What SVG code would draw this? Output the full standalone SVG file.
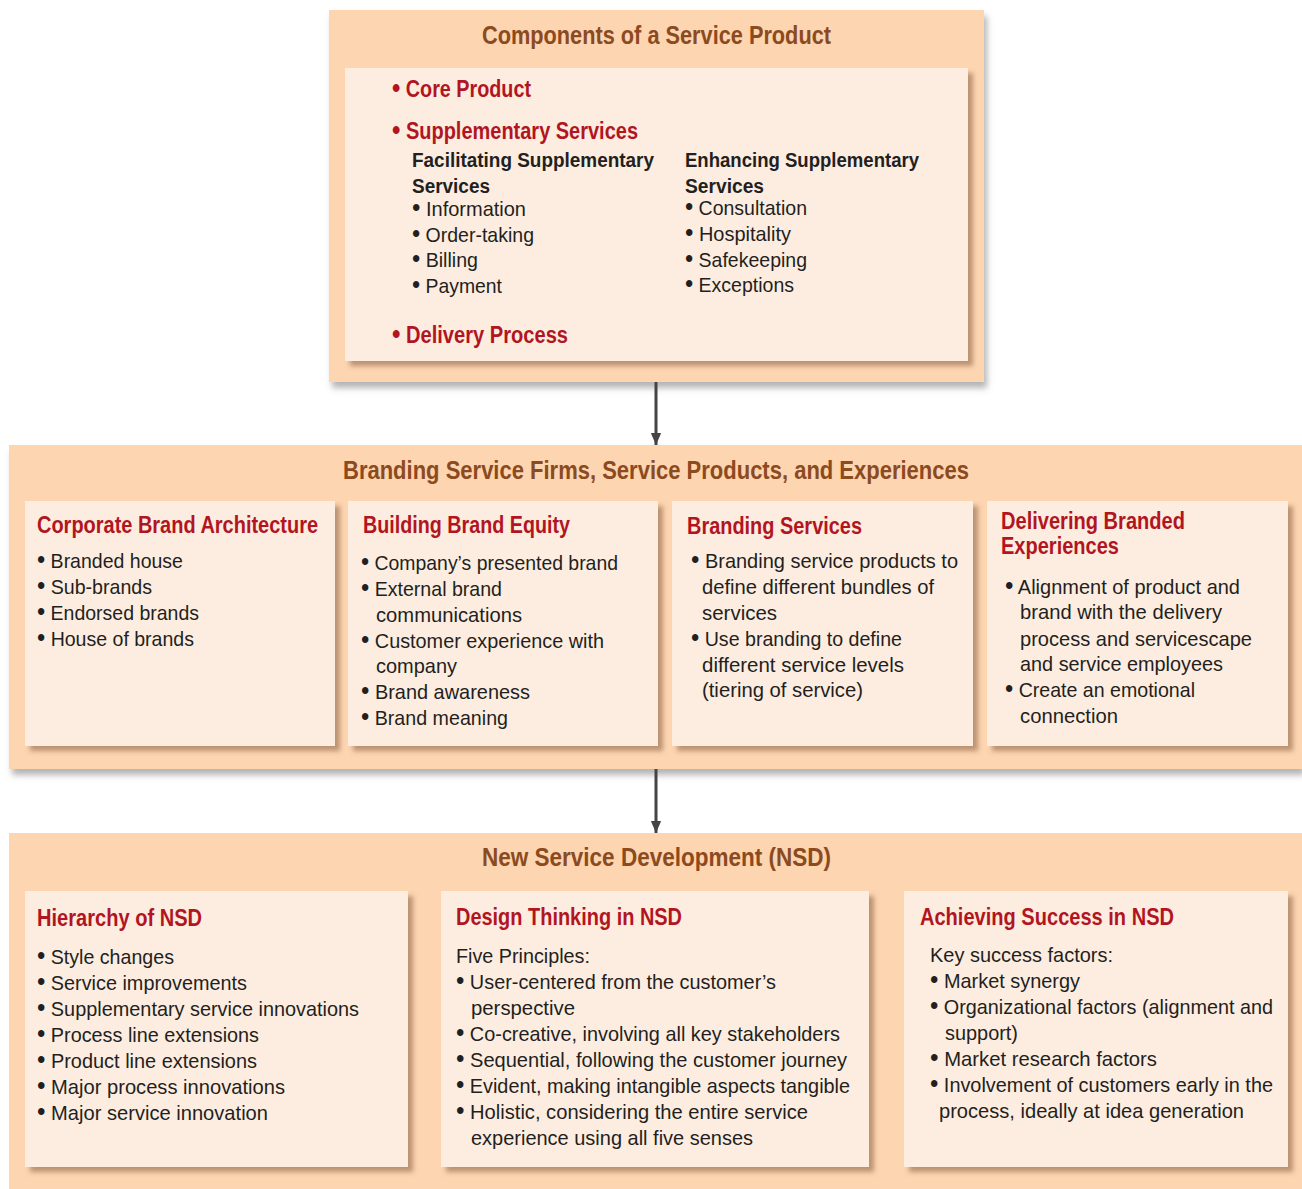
<svg xmlns="http://www.w3.org/2000/svg" width="1302" height="1189" viewBox="0 0 1302 1189">
<style>
text{font-family:"Liberation Sans",Arimo,Arial,sans-serif;}
.outer{fill:#FDD5B1;}
.inner{fill:#FDEDE0;}
.title{font-size:25px;font-weight:bold;fill:#8C4A1F;text-anchor:middle;}
.head{font-size:24px;font-weight:bold;fill:#B2151F;}
.head23{font-size:23px;font-weight:bold;fill:#B2151F;}
.sub{font-size:20px;font-weight:bold;fill:#231F20;}
.body{font-size:21px;fill:#231F20;}
.b{font-size:1.2em;}
.conn{stroke:#444;stroke-width:3;fill:none;}
</style>
<defs>
<filter id="osh" x="-5%" y="-5%" width="115%" height="120%">
<feDropShadow dx="3" dy="6" stdDeviation="3" flood-color="#777" flood-opacity="0.55"/>
</filter>
<filter id="ish" x="-5%" y="-5%" width="115%" height="120%">
<feDropShadow dx="5" dy="5" stdDeviation="2.5" flood-color="#7a5030" flood-opacity="0.5"/>
</filter>
<marker id="ah" markerWidth="12" markerHeight="14" refX="14" refY="6" orient="auto" markerUnits="userSpaceOnUse" viewBox="0 0 14 12">
<path d="M0,0 L14,6 L0,12 z" fill="#444"/>
</marker>
</defs>
<rect width="1302" height="1189" fill="#fff"/>

<g id="components">
<rect class="outer" x="329" y="10" width="655" height="372" filter="url(#osh)"/>
<text class="title" x="656.5" y="44" textLength="349" lengthAdjust="spacingAndGlyphs">Components of a Service Product</text>
<rect class="inner" x="345" y="68" width="623" height="293" filter="url(#ish)"/>
<text class="head23" x="392" y="97" textLength="139" lengthAdjust="spacingAndGlyphs"><tspan class="b">•</tspan> Core Product</text>
<text class="head23" x="392" y="139" textLength="246" lengthAdjust="spacingAndGlyphs"><tspan class="b">•</tspan> Supplementary Services</text>
<text class="sub" x="412" y="167" textLength="242" lengthAdjust="spacingAndGlyphs">Facilitating Supplementary</text>
<text class="sub" x="412" y="193" textLength="78" lengthAdjust="spacingAndGlyphs">Services</text>
<text class="body" x="412" y="216" textLength="114" lengthAdjust="spacingAndGlyphs"><tspan class="b">•</tspan> Information</text>
<text class="body" x="412" y="242" textLength="122" lengthAdjust="spacingAndGlyphs"><tspan class="b">•</tspan> Order-taking</text>
<text class="body" x="412" y="267" textLength="66" lengthAdjust="spacingAndGlyphs"><tspan class="b">•</tspan> Billing</text>
<text class="body" x="412" y="293" textLength="90" lengthAdjust="spacingAndGlyphs"><tspan class="b">•</tspan> Payment</text>
<text class="sub" x="685" y="167" textLength="234" lengthAdjust="spacingAndGlyphs">Enhancing Supplementary</text>
<text class="sub" x="685" y="193" textLength="79" lengthAdjust="spacingAndGlyphs">Services</text>
<text class="body" x="685" y="215" textLength="122" lengthAdjust="spacingAndGlyphs"><tspan class="b">•</tspan> Consultation</text>
<text class="body" x="685" y="241" textLength="106" lengthAdjust="spacingAndGlyphs"><tspan class="b">•</tspan> Hospitality</text>
<text class="body" x="685" y="267" textLength="122" lengthAdjust="spacingAndGlyphs"><tspan class="b">•</tspan> Safekeeping</text>
<text class="body" x="685" y="292" textLength="109" lengthAdjust="spacingAndGlyphs"><tspan class="b">•</tspan> Exceptions</text>
<text class="head23" x="392" y="343" textLength="176" lengthAdjust="spacingAndGlyphs"><tspan class="b">•</tspan> Delivery Process</text>
</g>

<g id="branding">
<rect class="outer" x="9" y="445" width="1293" height="324" filter="url(#osh)"/>
<text class="title" x="656" y="479" textLength="626" lengthAdjust="spacingAndGlyphs">Branding Service Firms, Service Products, and Experiences</text>
</g>

<g id="corporate-brand">
<rect class="inner" x="25" y="501" width="310" height="245" filter="url(#ish)"/>
<text class="head" x="37" y="533" textLength="281" lengthAdjust="spacingAndGlyphs">Corporate Brand Architecture</text>
<text class="body" x="37" y="568" textLength="146" lengthAdjust="spacingAndGlyphs"><tspan class="b">•</tspan> Branded house</text>
<text class="body" x="37" y="594" textLength="115" lengthAdjust="spacingAndGlyphs"><tspan class="b">•</tspan> Sub-brands</text>
<text class="body" x="37" y="620" textLength="162" lengthAdjust="spacingAndGlyphs"><tspan class="b">•</tspan> Endorsed brands</text>
<text class="body" x="37" y="646" textLength="157" lengthAdjust="spacingAndGlyphs"><tspan class="b">•</tspan> House of brands</text>
</g>

<g id="brand-equity">
<rect class="inner" x="348" y="501" width="310" height="245" filter="url(#ish)"/>
<text class="head" x="363" y="533" textLength="207" lengthAdjust="spacingAndGlyphs">Building Brand Equity</text>
<text class="body" x="361" y="570" textLength="257" lengthAdjust="spacingAndGlyphs"><tspan class="b">•</tspan> Company’s presented brand</text>
<text class="body" x="361" y="596" textLength="141" lengthAdjust="spacingAndGlyphs"><tspan class="b">•</tspan> External brand</text>
<text class="body" x="376" y="622" textLength="146" lengthAdjust="spacingAndGlyphs">communications</text>
<text class="body" x="361" y="648" textLength="243" lengthAdjust="spacingAndGlyphs"><tspan class="b">•</tspan> Customer experience with</text>
<text class="body" x="376" y="673" textLength="81" lengthAdjust="spacingAndGlyphs">company</text>
<text class="body" x="361" y="699" textLength="169" lengthAdjust="spacingAndGlyphs"><tspan class="b">•</tspan> Brand awareness</text>
<text class="body" x="361" y="725" textLength="147" lengthAdjust="spacingAndGlyphs"><tspan class="b">•</tspan> Brand meaning</text>
</g>

<g id="branding-services">
<rect class="inner" x="672" y="501" width="301" height="245" filter="url(#ish)"/>
<text class="head" x="687" y="534" textLength="175" lengthAdjust="spacingAndGlyphs">Branding Services</text>
<text class="body" x="691" y="568" textLength="267" lengthAdjust="spacingAndGlyphs"><tspan class="b">•</tspan> Branding service products to</text>
<text class="body" x="702" y="594" textLength="232" lengthAdjust="spacingAndGlyphs">define different bundles of</text>
<text class="body" x="702" y="620" textLength="75" lengthAdjust="spacingAndGlyphs">services</text>
<text class="body" x="691" y="646" textLength="211" lengthAdjust="spacingAndGlyphs"><tspan class="b">•</tspan> Use branding to define</text>
<text class="body" x="702" y="672" textLength="202" lengthAdjust="spacingAndGlyphs">different service levels</text>
<text class="body" x="702" y="697" textLength="161" lengthAdjust="spacingAndGlyphs">(tiering of service)</text>
</g>

<g id="branded-experiences">
<rect class="inner" x="987" y="501" width="301" height="245" filter="url(#ish)"/>
<text class="head" x="1001" y="529" textLength="184" lengthAdjust="spacingAndGlyphs">Delivering Branded</text>
<text class="head" x="1001" y="554" textLength="118" lengthAdjust="spacingAndGlyphs">Experiences</text>
<text class="body" x="1005" y="594" textLength="235" lengthAdjust="spacingAndGlyphs"><tspan class="b">•</tspan> Alignment of product and</text>
<text class="body" x="1020" y="619" textLength="202" lengthAdjust="spacingAndGlyphs">brand with the delivery</text>
<text class="body" x="1020" y="646" textLength="232" lengthAdjust="spacingAndGlyphs">process and servicescape</text>
<text class="body" x="1020" y="671" textLength="203" lengthAdjust="spacingAndGlyphs">and service employees</text>
<text class="body" x="1005" y="697" textLength="190" lengthAdjust="spacingAndGlyphs"><tspan class="b">•</tspan> Create an emotional</text>
<text class="body" x="1020" y="723" textLength="98" lengthAdjust="spacingAndGlyphs">connection</text>
</g>

<g id="nsd">
<rect class="outer" x="9" y="833" width="1293" height="356"/>
<text class="title" x="656.5" y="866" textLength="349" lengthAdjust="spacingAndGlyphs">New Service Development (NSD)</text>
</g>

<g id="hierarchy">
<rect class="inner" x="25" y="891" width="383" height="276" filter="url(#ish)"/>
<text class="head" x="37" y="926" textLength="165" lengthAdjust="spacingAndGlyphs">Hierarchy of NSD</text>
<text class="body" x="37" y="964" textLength="137" lengthAdjust="spacingAndGlyphs"><tspan class="b">•</tspan> Style changes</text>
<text class="body" x="37" y="990" textLength="210" lengthAdjust="spacingAndGlyphs"><tspan class="b">•</tspan> Service improvements</text>
<text class="body" x="37" y="1016" textLength="322" lengthAdjust="spacingAndGlyphs"><tspan class="b">•</tspan> Supplementary service innovations</text>
<text class="body" x="37" y="1042" textLength="222" lengthAdjust="spacingAndGlyphs"><tspan class="b">•</tspan> Process line extensions</text>
<text class="body" x="37" y="1068" textLength="220" lengthAdjust="spacingAndGlyphs"><tspan class="b">•</tspan> Product line extensions</text>
<text class="body" x="37" y="1094" textLength="248" lengthAdjust="spacingAndGlyphs"><tspan class="b">•</tspan> Major process innovations</text>
<text class="body" x="37" y="1120" textLength="231" lengthAdjust="spacingAndGlyphs"><tspan class="b">•</tspan> Major service innovation</text>
</g>

<g id="design-thinking">
<rect class="inner" x="441" y="891" width="428" height="276" filter="url(#ish)"/>
<text class="head" x="456" y="925" textLength="226" lengthAdjust="spacingAndGlyphs">Design Thinking in NSD</text>
<text class="body" x="456" y="963" textLength="134" lengthAdjust="spacingAndGlyphs">Five Principles:</text>
<text class="body" x="456" y="989" textLength="320" lengthAdjust="spacingAndGlyphs"><tspan class="b">•</tspan> User-centered from the customer’s</text>
<text class="body" x="471" y="1015" textLength="104" lengthAdjust="spacingAndGlyphs">perspective</text>
<text class="body" x="456" y="1041" textLength="384" lengthAdjust="spacingAndGlyphs"><tspan class="b">•</tspan> Co-creative, involving all key stakeholders</text>
<text class="body" x="456" y="1067" textLength="391" lengthAdjust="spacingAndGlyphs"><tspan class="b">•</tspan> Sequential, following the customer journey</text>
<text class="body" x="456" y="1093" textLength="394" lengthAdjust="spacingAndGlyphs"><tspan class="b">•</tspan> Evident, making intangible aspects tangible</text>
<text class="body" x="456" y="1119" textLength="352" lengthAdjust="spacingAndGlyphs"><tspan class="b">•</tspan> Holistic, considering the entire service</text>
<text class="body" x="471" y="1145" textLength="282" lengthAdjust="spacingAndGlyphs">experience using all five senses</text>
</g>

<g id="achieving-success">
<rect class="inner" x="904" y="891" width="384" height="276" filter="url(#ish)"/>
<text class="head" x="920" y="925" textLength="254" lengthAdjust="spacingAndGlyphs">Achieving Success in NSD</text>
<text class="body" x="930" y="962" textLength="183" lengthAdjust="spacingAndGlyphs">Key success factors:</text>
<text class="body" x="930" y="988" textLength="150" lengthAdjust="spacingAndGlyphs"><tspan class="b">•</tspan> Market synergy</text>
<text class="body" x="930" y="1014" textLength="343" lengthAdjust="spacingAndGlyphs"><tspan class="b">•</tspan> Organizational factors (alignment and</text>
<text class="body" x="945" y="1040" textLength="73" lengthAdjust="spacingAndGlyphs">support)</text>
<text class="body" x="930" y="1066" textLength="227" lengthAdjust="spacingAndGlyphs"><tspan class="b">•</tspan> Market research factors</text>
<text class="body" x="930" y="1092" textLength="343" lengthAdjust="spacingAndGlyphs"><tspan class="b">•</tspan> Involvement of customers early in the</text>
<text class="body" x="939" y="1118" textLength="305" lengthAdjust="spacingAndGlyphs">process, ideally at idea generation</text>
</g>

<g id="connectors">
<line class="conn" x1="656" y1="382" x2="656" y2="445" marker-end="url(#ah)"/>
<line class="conn" x1="656" y1="769" x2="656" y2="833" marker-end="url(#ah)"/>
</g>
</svg>
